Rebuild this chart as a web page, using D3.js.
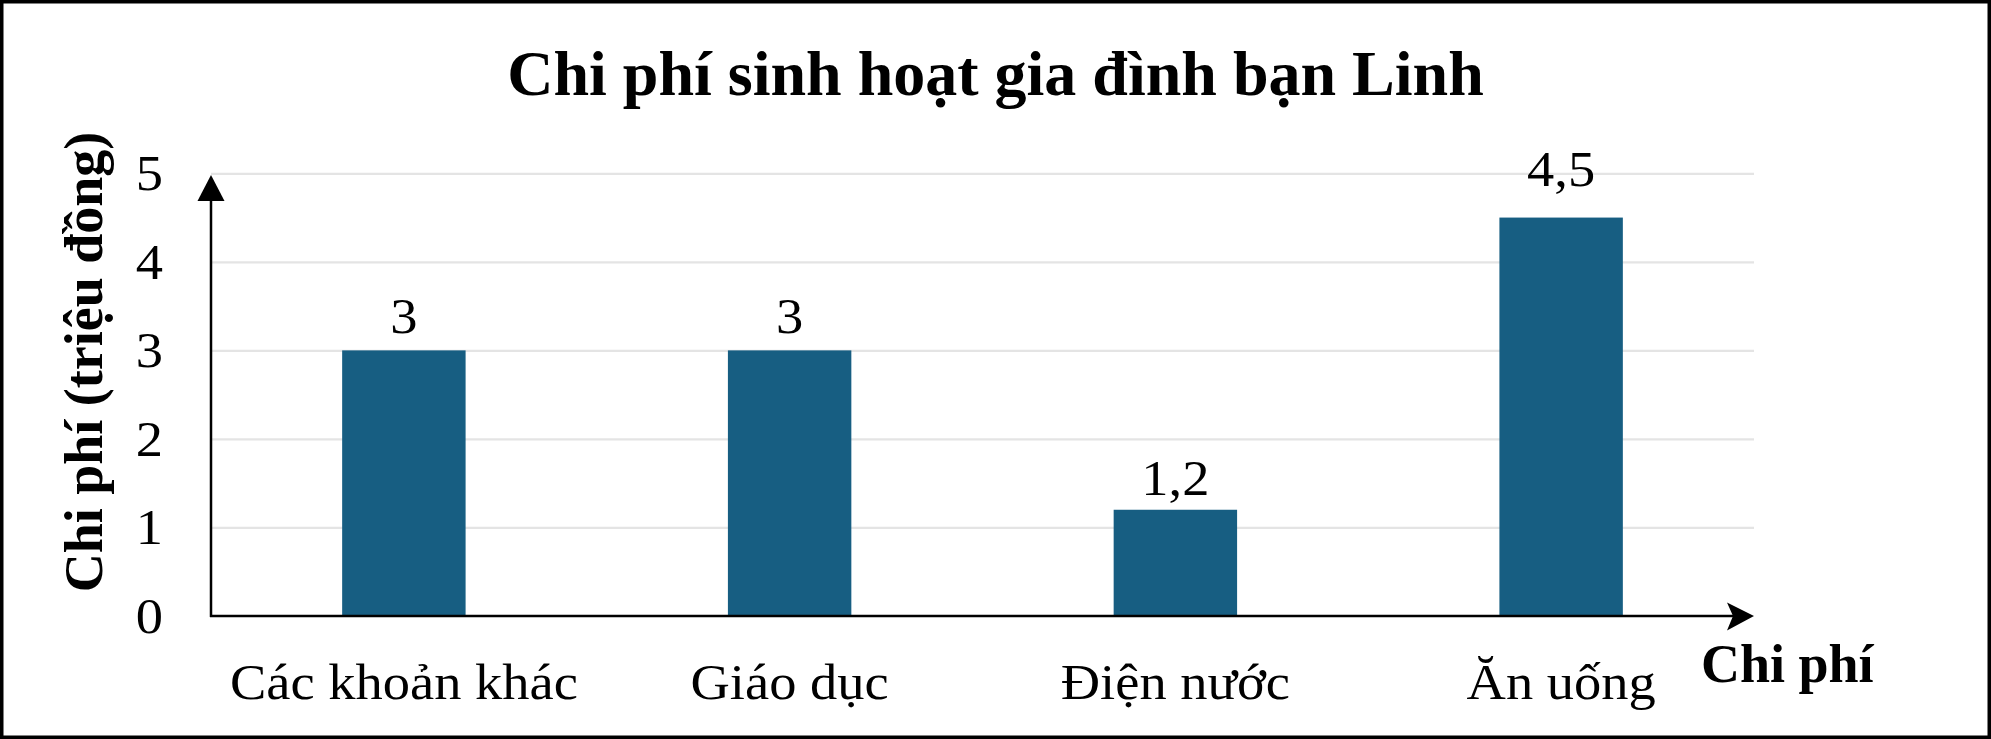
<!DOCTYPE html>
<html>
<head>
<meta charset="utf-8">
<script src="https://cdn.jsdelivr.net/npm/d3@7"></script>
<style>
  html, body { margin: 0; padding: 0; background: #fff; }
  svg { display: block; }
</style>
</head>
<body>
<svg id="chart" width="1991" height="739"></svg>
<script>
// ---- data ----
const categories = ["Các khoản khác", "Giáo dục", "Điện nước", "Ăn uống"];
const values = [3, 3, 1.2, 4.5];
const valueLabels = ["3", "3", "1,2", "4,5"];
const yTicks = [0, 1, 2, 3, 4, 5];
const yTickLabels = ["0", "1", "2", "3", "4", "5"];
const titleText = "Chi phí sinh hoạt gia đình bạn Linh";
const yTitleText = "Chi phí (triệu đồng)";
const xTitleText = "Chi phí";

// ---- layout ----
const W = 1991, H = 739;
const x0 = 211, x1 = 1754, yBase = 616, yTop = 173.3;
const FONT = "'Liberation Serif', 'Times New Roman', serif";
const barColor = "#175e82";
const SX = 1.09; // horizontal stretch of regular text

const svg = d3.select("#chart");
svg.append("rect").attr("width", W).attr("height", H).attr("fill", "#fff");

const x = d3.scaleBand().domain(categories).range([x0, x1])
  .paddingInner(0.68).paddingOuter(0.34);
const y = d3.scaleLinear().domain([0, 5]).range([yBase, yTop]);

// gridlines
const grid = svg.append("g")
  .attr("transform", `translate(${x0},0)`)
  .call(d3.axisLeft(y).tickValues(yTicks.slice(1)).tickSize(-(x1 - x0)).tickFormat(""));
grid.select(".domain").remove();
grid.selectAll("line").attr("stroke", "#e4e4e4").attr("stroke-width", 2.2);

// y tick labels
const yAx = svg.append("g")
  .attr("transform", `translate(${x0},0)`)
  .call(d3.axisLeft(y).tickValues(yTicks).tickSize(0).tickPadding(48)
    .tickFormat((d, i) => yTickLabels[i]));
yAx.select(".domain").remove();
yAx.selectAll("text")
  .attr("font-family", FONT).attr("font-size", 50).attr("fill", "#000")
  .attr("x", -48 / SX)
  .attr("transform", `scale(${SX},1)`)
  .attr("dy", "0.33em");

// bars
svg.append("g").selectAll("rect").data(values).join("rect")
  .attr("x", (d, i) => x(categories[i]))
  .attr("width", x.bandwidth())
  .attr("y", d => y(d))
  .attr("height", d => y(0) - y(d))
  .attr("fill", barColor);

// value labels
const labelLift = [17, 17, 15, 32];
svg.append("g").selectAll("text").data(values).join("text")
  .attr("transform", (d, i) =>
    `translate(${x(categories[i]) + x.bandwidth() / 2},${y(d) - labelLift[i]}) scale(${SX},1)`)
  .attr("text-anchor", "middle")
  .attr("font-family", FONT).attr("font-size", 50).attr("fill", "#000")
  .text((d, i) => valueLabels[i]);

// x category labels
const xAx = svg.append("g")
  .attr("transform", `translate(0,${yBase})`)
  .call(d3.axisBottom(x).tickSize(0).tickPadding(0));
xAx.select(".domain").remove();
xAx.selectAll("text")
  .attr("font-family", FONT).attr("font-size", 50).attr("fill", "#000")
  .attr("transform", `scale(${SX},1)`)
  .attr("y", 83).attr("dy", 0);

// axes lines with arrows
svg.append("line").attr("x1", x0).attr("x2", x0).attr("y1", yBase + 1).attr("y2", 196)
  .attr("stroke", "#000").attr("stroke-width", 2.5);
svg.append("path")
  .attr("d", `M${x0},175 L${x0 - 13.5},201 L${x0 + 13.5},201 Z`)
  .attr("fill", "#000");
svg.append("line").attr("x1", x0 - 1).attr("x2", 1740).attr("y1", yBase).attr("y2", yBase)
  .attr("stroke", "#000").attr("stroke-width", 2.5);
svg.append("path")
  .attr("d", `M1754,${yBase} L1727,${yBase - 13.5} L1733,${yBase} L1727,${yBase + 14.5} Z`)
  .attr("fill", "#000");

// titles
svg.append("text").attr("x", 995.5).attr("y", 95).attr("text-anchor", "middle")
  .attr("font-family", FONT).attr("font-size", 64).attr("font-weight", "bold")
  .text(titleText);
svg.append("text").attr("transform", "translate(102,362) rotate(-90)")
  .attr("text-anchor", "middle")
  .attr("font-family", FONT).attr("font-size", 54).attr("font-weight", "bold")
  .text(yTitleText);
svg.append("text").attr("x", 1701).attr("y", 682)
  .attr("font-family", FONT).attr("font-size", 54).attr("font-weight", "bold")
  .text(xTitleText);

// outer frame
svg.append("rect").attr("x", 1.75).attr("y", 1.75).attr("width", W - 3.5).attr("height", H - 3.5)
  .attr("fill", "none").attr("stroke", "#000").attr("stroke-width", 3.5);
</script>
</body>
</html>
